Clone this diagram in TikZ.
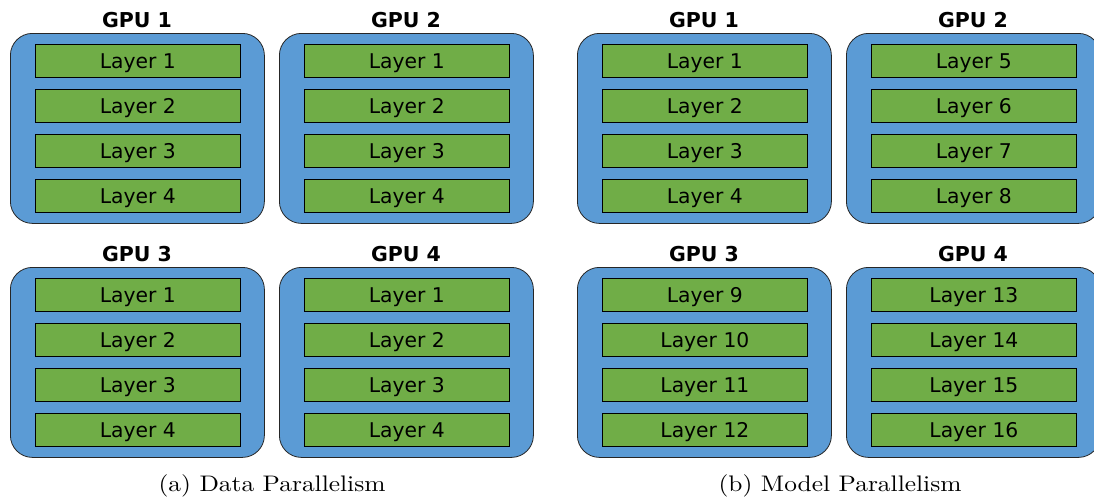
\documentclass[tikz,border=0pt]{standalone}
\usepackage{fontspec}
\newfontfamily\dv{DejaVu Sans}
\newfontfamily\capf{lmroman10-regular.otf}
\definecolor{gpublue}{HTML}{5B9BD5}
\definecolor{laygreen}{HTML}{70AD47}
\tikzset{
  gpubox/.style={draw=black!85, fill=gpublue, line width=0.8pt, rounded corners=22pt,
    minimum width=254pt, minimum height=190pt, inner sep=0pt, anchor=north west},
  layerbox/.style={draw=black, fill=laygreen, line width=0.8pt, minimum width=205pt,
    minimum height=33pt, inner sep=0pt, anchor=north west, text height=14.5pt, text depth=0pt,
    font=\dv\fontsize{20.3}{21}\selectfont},
  gputitle/.style={font=\dv\bfseries\fontsize{20.5}{22}\selectfont, inner sep=0pt, anchor=base},
  captxt/.style={font=\capf\fontsize{22.5}{26}\selectfont, inner sep=0pt, anchor=base}
}
\begin{document}
\begin{tikzpicture}[x=1pt,y=-1pt]
\useasboundingbox (0,0) rectangle (1094,498);
\foreach \col/\gx in {0/10,1/279,2/577,3/846}{
  \foreach \row/\gy in {0/33,1/267}{
    \pgfmathtruncatemacro\gpu{2*\row+mod(\col,2)+1}
    \pgfmathtruncatemacro\model{\col>1 ? 1 : 0}
    \node[gpubox] (g\col\row) at (\gx,\gy) {};
    \node[gputitle] (t\col\row) at (\gx+127,\gy-6) {GPU \gpu};
    \foreach \i in {1,...,4}{
      \pgfmathtruncatemacro\num{\model==1 ? 4*(\gpu-1)+\i : \i}
      \node[layerbox] (l\col\row\i) at (\gx+25,\gy+11+45*\i-45) {Layer \num};
    }
  }
}
\node[captxt] (capa) at (272,491) {\scalebox{1.13}[1]{(a) Data Parallelism}};
\node[captxt] (capb) at (840,491) {\scalebox{1.13}[1]{(b) Model Parallelism}};
\end{tikzpicture}
\end{document}
